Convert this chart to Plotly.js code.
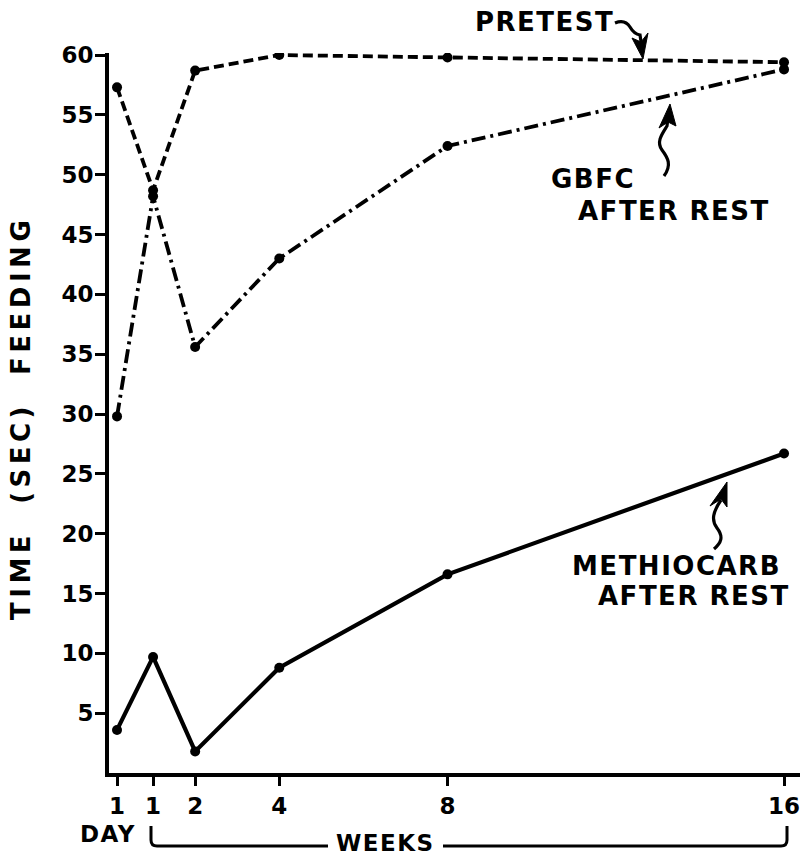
<!DOCTYPE html>
<html>
<head>
<meta charset="utf-8">
<script src="https://cdn.plot.ly/plotly-3.0.1.min.js"></script>
<style>
  html, body { margin: 0; padding: 0; background: #fff; }
  #chart { width: 801px; height: 856px; }
</style>
</head>
<body>
<div id="chart"></div>
<script>
// ---- data (time in weeks; first point is 1 day = 1/7 week) ----
const xWeeks = [1/7, 1, 2, 4, 8, 16];
const xTickText = ["1", "1", "2", "4", "8", "16"];
const yTickVals = [5, 10, 15, 20, 25, 30, 35, 40, 45, 50, 55, 60];
const pretest = [57.3, 48.7, 58.7, 60.0, 59.8, 59.4];
const gbfcAfterRest = [29.8, 48.2, 35.6, 43.0, 52.4, 58.8];
const methiocarbAfterRest = [3.6, 9.7, 1.8, 8.8, 16.6, 26.7];

// ---- layout geometry (pixels) ----
const W = 801, H = 856;
const L = 109, R = 800, T = 53, B = 773;
function px(x) { return (x - L) / (R - L); }
function py(y) { return (B - y) / (B - T); }
function path(segs) {
  return segs.map(s => {
    const c = s[0]; const out = [c];
    for (let i = 1; i < s.length; i += 2) out.push(px(s[i]).toFixed(5) + ',' + py(s[i + 1]).toFixed(5));
    return out.join(' ');
  }).join(' ');
}

const FONT = 'DejaVu Sans, Verdana, sans-serif';
const markerStyle = { size: 10, color: '#000' };

const traces = [
  { x: xWeeks, y: pretest, mode: 'lines+markers', name: 'PRETEST',
    line: { color: '#000', width: 3.8, dash: '10px,5px' }, marker: markerStyle },
  { x: xWeeks, y: gbfcAfterRest, mode: 'lines+markers', name: 'GBFC AFTER REST',
    line: { color: '#000', width: 3.8, dash: '14px,5px,3px,5px' }, marker: markerStyle },
  { x: xWeeks, y: methiocarbAfterRest, mode: 'lines+markers', name: 'METHIOCARB AFTER REST',
    line: { color: '#000', width: 4.2 }, marker: markerStyle }
];

function label(text, x, y, anchor, size) {
  return { text: '<span style="letter-spacing:1.5px">' + text + '</span>',
    xref: 'paper', yref: 'paper', x: px(x), y: py(y),
    xanchor: anchor, yanchor: 'middle', showarrow: false,
    font: { family: FONT, size: size || 26, color: '#000', weight: 700 } };
}

const annotations = [
  label('PRETEST', 544, 22, 'center'),
  label('GBFC', 549, 179, 'left'),
  label('AFTER REST', 576, 211, 'left'),
  label('METHIOCARB', 570, 566, 'left'),
  label('AFTER REST', 596, 596, 'left'),
  label('DAY', 108, 834, 'center', 23),
  label('WEEKS', 385, 843, 'center', 23),
  { text: '<span style="letter-spacing:4.5px">TIME  (SEC)  FEEDING</span>',
    xref: 'paper', yref: 'paper', x: px(21), y: py(418), textangle: -90,
    xanchor: 'center', yanchor: 'middle', showarrow: false,
    font: { family: FONT, size: 26, color: '#000', weight: 700 } }
];

const lineS = { color: '#000', width: 3.2 };
const shapes = [
  // PRETEST arrow
  { type: 'path', xref: 'paper', yref: 'paper', line: lineS,
    path: path([['M', 615, 23], ['Q', 625, 19, 630, 27], ['Q', 634, 34, 640, 35], ['L', 642, 48]]) },
  { type: 'path', xref: 'paper', yref: 'paper', line: { color: '#000', width: 1 }, fillcolor: '#000',
    path: path([['M', 643, 59], ['L', 632, 38], ['L', 641, 42], ['L', 648, 33], ['Z']]) },
  // GBFC arrow
  { type: 'path', xref: 'paper', yref: 'paper', line: lineS,
    path: path([['M', 664, 176], ['C', 672, 165, 668, 158, 662, 150], ['C', 656, 142, 662, 134, 667, 126], ['L', 668, 118]]) },
  { type: 'path', xref: 'paper', yref: 'paper', line: { color: '#000', width: 1 }, fillcolor: '#000',
    path: path([['M', 670, 104], ['L', 676, 126], ['L', 668, 122], ['L', 659, 128], ['Z']]) },
  // METHIOCARB arrow
  { type: 'path', xref: 'paper', yref: 'paper', line: lineS,
    path: path([['M', 721, 500], ['C', 713, 512, 711, 520, 717, 528], ['C', 724, 537, 721, 543, 714, 549]]) },
  { type: 'path', xref: 'paper', yref: 'paper', line: { color: '#000', width: 1 }, fillcolor: '#000',
    path: path([['M', 727, 482], ['L', 727, 507], ['L', 721, 499], ['L', 710, 506], ['Z']]) },
  // WEEKS bracket
  { type: 'path', xref: 'paper', yref: 'paper', line: { color: '#000', width: 3 },
    path: path([['M', 151, 826], ['L', 151, 840], ['Q', 151, 846, 157, 846], ['L', 328, 846]]) },
  { type: 'path', xref: 'paper', yref: 'paper', line: { color: '#000', width: 3 },
    path: path([['M', 443, 846], ['L', 781, 846], ['Q', 787, 846, 787, 840], ['L', 787, 826]]) }
];

const layout = {
  width: W, height: H,
  margin: { l: L, r: W - R, t: T, b: H - B, pad: 0 },
  paper_bgcolor: '#fff', plot_bgcolor: '#fff',
  showlegend: false,
  font: { family: FONT, color: '#000', weight: 700 },
  xaxis: {
    range: [-0.048, 16.38], tickvals: xWeeks, ticktext: xTickText,
    showgrid: false, zeroline: false, showline: true, linecolor: '#000', linewidth: 4,
    ticks: 'outside', ticklen: 9, tickwidth: 3, tickcolor: '#000',
    tickfont: { family: FONT, size: 23, color: '#000', weight: 700 }
  },
  yaxis: {
    range: [0, 60.17], tickvals: yTickVals,
    showgrid: false, zeroline: false, showline: true, linecolor: '#000', linewidth: 4,
    ticks: 'outside', ticklen: 10, tickwidth: 3, tickcolor: '#000', ticklabelstandoff: -3,
    tickfont: { family: FONT, size: 23, color: '#000', weight: 700 }
  },
  annotations: annotations,
  shapes: shapes
};

Plotly.newPlot('chart', traces, layout, { staticPlot: true, displayModeBar: false });
</script>
</body>
</html>
